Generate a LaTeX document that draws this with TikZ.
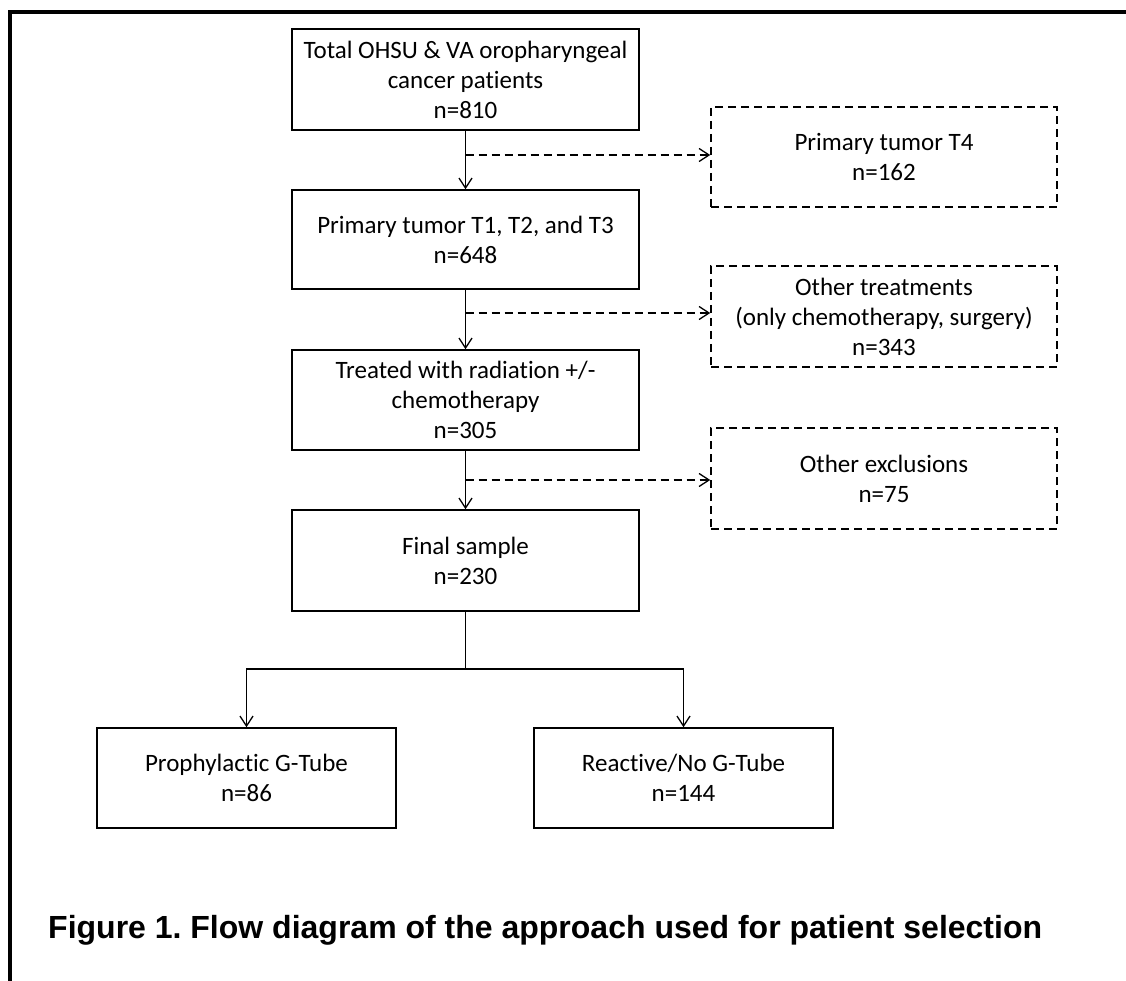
\documentclass[tikz,border=0pt]{standalone}
\usepackage{fontspec}
\setmainfont[Ligatures=NoCommon]{Carlito}
\newfontfamily\capfont{Liberation Sans}
\usetikzlibrary{arrows.meta}
\frenchspacing
\begin{document}
\begin{tikzpicture}[x=1pt,y=-1pt,
  box/.style={draw,line width=1.5pt,minimum width=347pt,minimum height=100pt,align=center,
     font=\fontsize{25}{30}\selectfont,inner sep=0pt},
  dbox/.style={box,dash pattern=on 8pt off 5pt},
  sbox/.style={box,minimum width=299pt},
  arr/.style={line width=1.5pt,-{Straight Barb[length=10pt,width=13pt,line width=1.3pt]}},
  darr/.style={arr,dash pattern=on 8pt off 5pt}]
\useasboundingbox (0,0) rectangle (1126,981);
% frame
\draw[line width=4.5pt,line cap=rect] (1130,12) -- (10,12) -- (10,990);
% main boxes
\node[box,minimum height=101pt] (b1) at (465.5,79.5) {Total OHSU \& VA oropharyngeal\\cancer patients\\n=810};
\node[box,minimum height=99pt] (b2) at (465.5,239.5) {Primary tumor T1, T2, and T3\\n=648};
\node[box] (b3) at (465.5,400) {Treated with radiation +/-\\chemotherapy\\n=305};
\node[box,minimum height=101pt] (b4) at (465.5,560.5) {Final sample\\n=230};
\node[sbox] (b5) at (246.5,778) {Prophylactic G-Tube\\n=86};
\node[sbox] (b6) at (683.5,778) {Reactive/No G-Tube\\n=144};
% excluded boxes
\node[dbox,minimum width=346pt] (d1) at (884,157) {Primary tumor T4\\n=162};
\node[dbox,minimum width=346pt,minimum height=101pt] (d2) at (884,316.5) {Other treatments\\(only chemotherapy, surgery)\\n=343};
\node[dbox,minimum width=346pt,minimum height=101pt] (d3) at (884,478.5) {Other exclusions\\n=75};
% main flow
\draw[arr] (b1) -- (b2);
\draw[arr] (b2) -- (b3);
\draw[arr] (b3) -- (b4);
% exclusions
\coordinate (j1) at (465.5,155);
\coordinate (j2) at (465.5,313);
\coordinate (j3) at (465.5,480);
\draw[darr] (j1) -- (j1 -| d1.west);
\draw[darr] (j2) -- (j2 -| d2.west);
\draw[darr] (j3) -- (j3 -| d3.west);
% split
\coordinate (sp) at (465.5,669);
\draw[line width=1.5pt] (b4.south) -- (sp);
\draw[arr] (sp) -| (b5.north);
\draw[arr] (sp) -| (b6.north);
% caption
\node[anchor=base west,inner sep=0pt,font=\capfont\bfseries\fontsize{32}{36}\selectfont] (cap) at (48,938) {Figure 1. Flow diagram of the approach used for patient selection};
\end{tikzpicture}
\end{document}
